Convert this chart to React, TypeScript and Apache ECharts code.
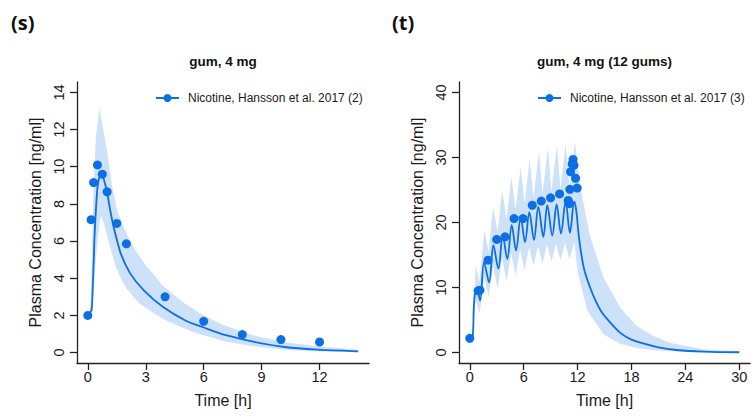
import React, { useEffect, useRef } from 'react';
import * as echarts from 'echarts';

const BLUE = '#0c6fe4';
const BAND = '#cde1f9';
const TXT = '#1a1a1a';
const FONT = '"Liberation Sans", Arial, sans-serif';

const titleS = 'gum, 4 mg';
const titleT = 'gum, 4 mg (12 gums)';
const legendS = 'Nicotine, Hansson et al. 2017 (2)';
const legendT = 'Nicotine, Hansson et al. 2017 (3)';
const xName = 'Time [h]';
const yName = 'Plasma Concentration [ng/ml]';

const ticksXS = [0, 3, 6, 9, 12];
const ticksYS = [0, 2, 4, 6, 8, 10, 12, 14];
const ticksXT = [0, 6, 12, 18, 24, 30];
const ticksYT = [0, 10, 20, 30, 40];

// panel (s): observed points [time h, conc ng/ml]
const obsS = [
  [0, 2.0], [0.17, 7.15], [0.3, 9.15], [0.5, 10.1], [0.75, 9.6], [1.0, 8.65],
  [1.5, 6.95], [2, 5.85], [4, 3.0], [6, 1.68], [8, 0.97], [10, 0.7], [12, 0.57],
];
// panel (s): simulated median
const simS = [
  [0, 2.0], [0.2, 2.3], [0.35, 6.3], [0.5, 8.9], [0.62, 9.5], [0.72, 9.6], [0.85, 9.25],
  [1.0, 8.6], [1.18, 7.55], [1.35, 6.7], [1.7, 5.35], [2.2, 4.25], [2.9, 3.35], [3.9, 2.45],
  [5.1, 1.7], [6.0, 1.35], [6.8, 1.05], [7.2, 0.92], [8.5, 0.6], [10.2, 0.3], [11.9, 0.16], [14, 0.07],
];
const upperS = [
  [0, 2.0], [0.15, 2.6], [0.3, 9.0], [0.42, 11.6], [0.6, 13.15], [0.8, 12.0], [1.0, 10.8],
  [1.25, 9.0], [1.53, 7.6], [2.0, 6.4], [2.47, 5.5], [3.0, 4.7], [3.93, 3.55], [5.0, 2.65],
  [6.0, 2.0], [7.0, 1.5], [8.5, 0.95], [10.2, 0.55], [12, 0.33], [14, 0.15],
];
const lowerS = [
  [0, 2.0], [0.2, 2.25], [0.35, 4.2], [0.5, 6.0], [0.6, 6.9], [0.68, 7.35], [0.82, 7.0],
  [1.0, 6.3], [1.2, 5.5], [1.45, 4.6], [1.75, 3.9], [2.0, 3.45], [2.66, 2.65], [3.0, 2.4],
  [4.0, 1.75], [5.0, 1.3], [5.75, 1.0], [7.3, 0.56], [8.5, 0.35], [10.2, 0.15], [12, 0.06], [14, 0.03],
];

// panel (t)
const obsT = [
  [0, 2.2], [0.92, 9.5], [1.14, 9.6], [2.03, 14.2], [3.0, 17.4], [3.93, 17.8], [4.93, 20.6],
  [5.93, 20.6], [6.96, 22.65], [7.96, 23.3], [9.0, 23.8], [10.0, 24.4], [10.96, 23.4],
  [11.1, 22.9], [11.15, 25.1], [11.22, 27.8], [11.4, 29.0], [11.5, 29.7], [11.6, 28.8],
  [11.78, 26.8], [11.96, 25.3],
];
const simT = [
  [0, 2.2], [0.3, 2.3], [0.45, 7.0], [0.6, 9.4], [0.78, 9.8], [1.15, 8.0], [1.59, 13.9],
  [2.15, 10.8], [2.63, 16.5], [3.18, 12.9], [3.67, 18.0], [4.18, 14.4], [4.67, 19.6],
  [5.15, 15.7], [5.67, 20.8], [6.15, 17.0], [6.63, 21.6], [7.15, 17.3], [7.63, 22.4],
  [8.19, 17.8], [8.63, 22.65], [9.19, 18.0], [9.67, 22.8], [10.15, 18.3], [10.67, 23.2],
  [11.15, 18.4], [11.63, 23.2], [11.85, 21.9], [12.15, 17.8], [12.7, 13.0], [13.4, 10.0],
  [14.0, 8.0], [14.7, 6.2], [15.6, 4.7], [16.8, 3.0], [18.0, 2.0], [19.3, 1.4], [21, 0.8],
  [23, 0.4], [26, 0.15], [30, 0.05],
];
const upperT = [
  [0, 2.2], [0.3, 2.5], [0.67, 13.4], [1.1, 10.8], [1.62, 18.8], [2.1, 15.5], [2.6, 22.4],
  [3.1, 18.5], [3.6, 25.0], [4.1, 20.5], [4.63, 27.0], [5.1, 22.0], [5.67, 28.5], [6.1, 23.0],
  [6.67, 29.8], [7.1, 23.8], [7.7, 30.9], [8.1, 24.4], [8.7, 31.4], [9.1, 24.8], [9.7, 31.9],
  [10.1, 25.1], [10.67, 32.2], [11.1, 25.3], [11.7, 32.4], [12.3, 25.5], [13.4, 17.8],
  [14.9, 11.5], [16.8, 6.8], [18.6, 4.1], [20.5, 2.5], [22.3, 1.5], [26, 0.5], [30, 0.18],
];
const lowerT = [
  [0, 2.2], [0.3, 2.25], [0.65, 8.0], [1.1, 6.0], [1.6, 11.5], [2.1, 8.5], [2.6, 13.3],
  [3.1, 9.8], [3.6, 14.5], [4.1, 10.9], [4.6, 15.3], [5.1, 11.9], [5.6, 15.8], [6.1, 12.7],
  [6.6, 16.2], [7.1, 13.3], [7.6, 16.4], [8.1, 13.7], [8.6, 16.6], [9.1, 14.0], [9.6, 16.7],
  [10.1, 14.2], [10.6, 16.8], [11.1, 14.4], [11.65, 17.0], [12.0, 12.5], [13.07, 6.5],
  [14.9, 2.8], [16.8, 1.34], [18.6, 0.7], [20.5, 0.35], [24, 0.1], [30, 0.02],
];

const axisLineStyle = { color: '#222', width: 1.3 };

function xAxis(gi: number, min: number, max: number, ticks: number[]) {
  return {
    type: 'value', gridIndex: gi, min, max,
    name: xName, nameLocation: 'middle', nameGap: 29,
    nameTextStyle: { fontSize: 16, color: TXT, fontFamily: FONT },
    axisLine: { onZero: false, lineStyle: axisLineStyle },
    axisTick: { show: true, length: 7, customValues: ticks, lineStyle: axisLineStyle },
    axisLabel: { customValues: ticks, margin: 6, fontSize: 14.5, color: TXT, fontFamily: FONT },
    splitLine: { show: false },
  };
}
function yAxis(gi: number, min: number, max: number, ticks: number[]) {
  return {
    type: 'value', gridIndex: gi, min, max,
    name: yName, nameLocation: 'middle', nameGap: 34, nameRotate: 90,
    nameTextStyle: { fontSize: 16, color: TXT, fontFamily: FONT },
    axisLine: { onZero: false, lineStyle: axisLineStyle },
    axisTick: { show: true, length: 7, customValues: ticks, lineStyle: axisLineStyle },
    axisLabel: { customValues: ticks, margin: 11, rotate: 90, fontSize: 14.5, color: TXT, fontFamily: FONT },
    splitLine: { show: false },
  };
}
function band(upper: number[][], lower: number[][], idx: number) {
  return {
    type: 'custom', xAxisIndex: idx, yAxisIndex: idx, z: 1, silent: true, clip: true,
    data: [[0, 0]],
    renderItem: (_p: any, api: any) => {
      const pts = upper.map((p) => api.coord(p)).concat(lower.slice().reverse().map((p) => api.coord(p)));
      return { type: 'polygon', shape: { points: pts }, style: { fill: BAND } };
    },
  };
}
function simLine(d: number[][], idx: number, smooth: number) {
  return {
    type: 'line', xAxisIndex: idx, yAxisIndex: idx, z: 2, data: d, showSymbol: false,
    smooth, silent: true, lineStyle: { color: BLUE, width: 1.8 },
  };
}
function obs(d: number[][], idx: number) {
  return {
    type: 'scatter', xAxisIndex: idx, yAxisIndex: idx, z: 3, data: d, symbol: 'circle',
    symbolSize: 9, itemStyle: { color: BLUE, opacity: 1 }, silent: true,
  };
}
function legendSeries(name: string, idx: number) {
  return {
    type: 'line', name, xAxisIndex: idx, yAxisIndex: idx, data: [], symbol: 'circle',
    itemStyle: { color: BLUE, opacity: 1 }, lineStyle: { color: BLUE, width: 1.8 },
  };
}
function legend(name: string, left: number) {
  return {
    data: [name], left, top: 92, itemWidth: 23, itemHeight: 10, selectedMode: false,
    padding: 0, textStyle: { fontSize: 12, color: TXT, fontFamily: FONT, padding: [0, 0, 0, 4] },
  };
}

export default function App() {
  const ref = useRef<HTMLDivElement>(null);
  useEffect(() => {
    if (!ref.current) return;
    const chart = echarts.init(ref.current, undefined, { renderer: 'svg' });
    chart.setOption({
      animation: false,
      backgroundColor: '#fff',
      grid: [
        { left: 77, top: 82, width: 292, height: 281 },
        { left: 459, top: 82, width: 291, height: 281 },
      ],
      xAxis: [xAxis(0, -0.56, 14.56, ticksXS), xAxis(1, -1.2, 31.2, ticksXT)],
      yAxis: [yAxis(0, -0.56, 14.56, ticksYS), yAxis(1, -1.6, 41.6, ticksYT)],
      legend: [legend(legendS, 155), legend(legendT, 537)],
      graphic: [
        { type: 'text', x: 11, y: 22, style: { text: '(s)', font: 'bold 20px "Open Sans", sans-serif', fill: '#111', textVerticalAlign: 'middle' } },
        { type: 'text', x: 392, y: 22, style: { text: '(t)', font: 'bold 20px "Open Sans", sans-serif', fill: '#111', textVerticalAlign: 'middle' } },
        { type: 'text', x: 223, y: 61, style: { text: titleS, font: 'bold 13.5px "Liberation Sans", Arial, sans-serif', fill: '#111', textAlign: 'center', textVerticalAlign: 'middle' } },
        { type: 'text', x: 604.5, y: 61, style: { text: titleT, font: 'bold 13.5px "Liberation Sans", Arial, sans-serif', fill: '#111', textAlign: 'center', textVerticalAlign: 'middle' } },
      ],
      series: [
        band(upperS, lowerS, 0),
        simLine(simS, 0, 0.2),
        obs(obsS, 0),
        legendSeries(legendS, 0),
        band(upperT, lowerT, 1),
        simLine(simT, 1, 0.35),
        obs(obsT, 1),
        legendSeries(legendT, 1),
      ],
    });
    return () => chart.dispose();
  }, []);
  return <div ref={ref} style={{ position: 'fixed', left: 0, top: 0, width: 753, height: 416 }} />;
}
